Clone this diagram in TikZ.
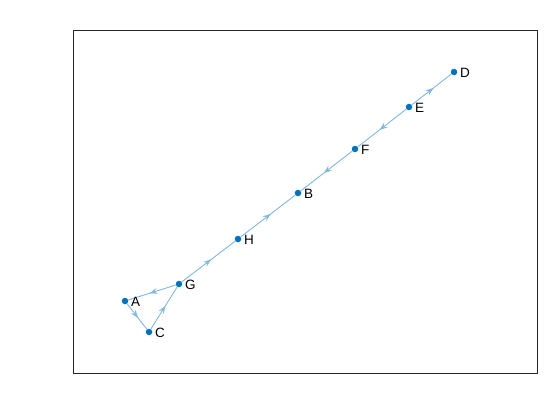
\documentclass[tikz,border=0pt]{standalone}
\usepackage{fontspec}
\setmainfont{Liberation Sans}
\usetikzlibrary{arrows.meta,decorations.markings}
\definecolor{vert}{HTML}{0072BD}
\definecolor{edgeblue}{HTML}{80B8DE}

\tikzset{
  vtx/.style={circle, fill=vert, inner sep=0pt, minimum size=6.5pt},
  lbl/.style={anchor=west, inner sep=0pt, font=\fontsize{13.5}{15}\selectfont},
  arc/.style={edgeblue, line width=0.9pt,
    decoration={markings, mark=at position 0.55 with {\arrow{Stealth[length=8pt,width=6pt,inset=3pt]}}},
    postaction={decorate}}
}

\begin{document}
\begin{tikzpicture}[x=1pt,y=-1pt]
  \useasboundingbox (0,0) rectangle (560,420);
  \draw[line width=0.5pt, black!85] (73,30) rectangle (537,373);

  % vertices
  \node[vtx] (A) at (125,301) {};
  \node[vtx] (C) at (149,332) {};
  \node[vtx] (G) at (179,284) {};
  \node[vtx] (H) at (238,239) {};
  \node[vtx] (B) at (298,193) {};
  \node[vtx] (F) at (355,149) {};
  \node[vtx] (E) at (409,107) {};
  \node[vtx] (D) at (454,72) {};

  % edges
  \draw[arc] (A) -- (C);
  \draw[arc] (C) -- (G);
  \draw[arc] (G) -- (A);
  \draw[arc] (G) -- (H);
  \draw[arc] (H) -- (B);
  \draw[arc] (F) -- (B);
  \draw[arc] (E) -- (F);
  \draw[arc] (E) -- (D);

  % labels
  \foreach \v in {A,B,C,D,E,F,G,H}
    \node[lbl] (lab\v) at ([xshift=6pt,yshift=-0.5pt]\v.center) {\v};
\end{tikzpicture}
\end{document}
